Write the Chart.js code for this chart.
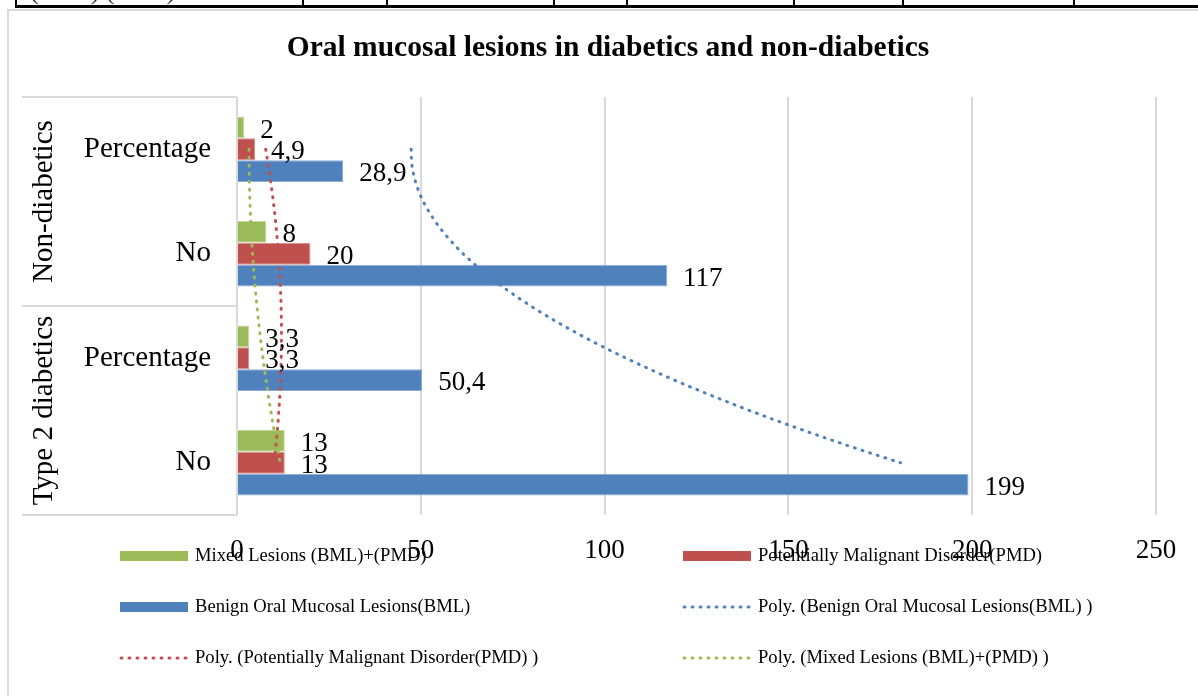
<!DOCTYPE html>
<html>
<head>
<meta charset="utf-8">
<script src="https://cdn.jsdelivr.net/npm/chart.js@4.4.1/dist/chart.umd.min.js"></script>
<style>
  body { margin: 0; background: #fff; overflow: hidden; }
  #wrap { position: relative; width: 1198px; height: 696px; overflow: hidden; }
  #frame { position: absolute; left: 7px; top: 9px; width: 1300px; height: 800px; border: 2px solid #d9d9d9; box-sizing: border-box; }
  .tl { position: absolute; background: #000; }
  .clip { position: absolute; top: 0; height: 5px; overflow: hidden; font: 26px "Liberation Serif", serif; color: #333; white-space: pre; }
  .clip span { position: relative; top: -24px; }
  canvas { position: absolute; left: 0; top: 0; }
</style>
</head>
<body>
<div id="wrap">
  <div id="frame"></div>
  <div class="tl" style="left:15px;top:5px;width:1190px;height:3px"></div>
  <div class="tl" style="left:15px;top:0;width:2px;height:7px"></div>
  <div class="tl" style="left:302px;top:0;width:2px;height:7px"></div>
  <div class="tl" style="left:386px;top:0;width:2px;height:7px"></div>
  <div class="tl" style="left:553px;top:0;width:2px;height:7px"></div>
  <div class="tl" style="left:626px;top:0;width:2px;height:7px"></div>
  <div class="tl" style="left:793px;top:0;width:2px;height:7px"></div>
  <div class="tl" style="left:902px;top:0;width:2px;height:7px"></div>
  <div class="tl" style="left:1073px;top:0;width:2px;height:7px"></div>
  <div class="clip" style="left:30px"><span>(        ) (        )</span></div>
  <canvas id="chart" width="1198" height="696"></canvas>
</div>
<script>
const title = "Oral mucosal lesions in diabetics and non-diabetics";
// categories listed top to bottom
const categories = ["Percentage", "No", "Percentage", "No"];
const groups = ["Non-diabetics", "Type 2 diabetics"];
const mixedLesions = [2, 8, 3.3, 13];
const pmd = [4.9, 20, 3.3, 13];
const bml = [28.9, 117, 50.4, 199];
const xTicks = [0, 50, 100, 150, 200, 250];

const serif = '"Liberation Serif", "Times New Roman", serif';
const green = "#9bbb59", red = "#c0504d", blue = "#4f81bd";
const dots = [1, 7];

// 2nd order polynomial trendline (least squares over category index)
function polyTrend(values) {
  const n = values.length;
  let s = [0, 0, 0, 0, 0], t = [0, 0, 0];
  values.forEach((v, i) => {
    for (let k = 0; k < 5; k++) s[k] += Math.pow(i, k);
    for (let k = 0; k < 3; k++) t[k] += v * Math.pow(i, k);
  });
  const m = [[s[0], s[1], s[2], t[0]], [s[1], s[2], s[3], t[1]], [s[2], s[3], s[4], t[2]]];
  for (let c = 0; c < 3; c++) {
    for (let r = c + 1; r < 3; r++) {
      const f = m[r][c] / m[c][c];
      for (let k = c; k < 4; k++) m[r][k] -= f * m[c][k];
    }
  }
  const b = [0, 0, 0];
  for (let r = 2; r >= 0; r--) {
    let acc = m[r][3];
    for (let k = r + 1; k < 3; k++) acc -= m[r][k] * b[k];
    b[r] = acc / m[r][r];
  }
  const pts = [];
  for (let j = 0; j <= 60; j++) {
    const i = (n - 1) * j / 60;
    pts.push({ x: b[0] + b[1] * i + b[2] * i * i, y: i });
  }
  return pts;
}

function trendSet(label, values, color) {
  return {
    type: "line", label, data: polyTrend(values), xAxisID: "x", yAxisID: "yLin",
    borderColor: color, borderWidth: 3, borderDash: dots, borderCapStyle: "round",
    pointRadius: 0, fill: false, tension: 0, order: 0
  };
}

function barSet(label, values, color, edge) {
  return { type: "bar", indexAxis: "y", label, data: values, backgroundColor: color,
    borderColor: edge, borderWidth: 1,
    yAxisID: "y", xAxisID: "x", categoryPercentage: 0.625, barPercentage: 1, order: 1 };
}

const legendItems = [
  { label: "Mixed Lesions (BML)+(PMD)", color: green, box: true },
  { label: "Potentially Malignant Disorder(PMD)", color: red, box: true },
  { label: "Benign Oral Mucosal Lesions(BML)", color: blue, box: true },
  { label: "Poly. (Benign Oral Mucosal Lesions(BML) )", color: blue, box: false },
  { label: "Poly. (Potentially Malignant Disorder(PMD) )", color: red, box: false },
  { label: "Poly. (Mixed Lesions (BML)+(PMD) )", color: green, box: false }
];

const decor = {
  id: "decor",
  afterDatasetsDraw(chart) {
    const ctx = chart.ctx;
    ctx.save();
    ctx.fillStyle = "#000";
    ctx.font = "27px " + serif;
    ctx.textAlign = "left";
    ctx.textBaseline = "middle";
    chart.data.datasets.forEach((ds, di) => {
      if (ds.type !== "bar") return;
      chart.getDatasetMeta(di).data.forEach((bar, j) => {
        ctx.fillText(String(ds.data[j]).replace(".", ","), bar.x + 16, bar.y + 3);
      });
    });
    ctx.restore();
  },
  afterDraw(chart) {
    const { ctx, chartArea: a } = chart;
    const y = chart.scales.y;
    ctx.save();
    ctx.fillStyle = "#000";
    ctx.textAlign = "center";
    ctx.textBaseline = "middle";
    ctx.font = "bold 29.5px " + serif;
    ctx.fillText(title, 608, 48);

    const mid = (y.getPixelForValue(1) + y.getPixelForValue(2)) / 2;
    ctx.strokeStyle = "#d9d9d9";
    ctx.lineWidth = 2;
    [a.top, mid, a.bottom].forEach((py) => {
      ctx.beginPath();
      ctx.moveTo(22, py);
      ctx.lineTo(a.left, py);
      ctx.stroke();
    });

    ctx.font = "29px " + serif;
    groups.forEach((g, i) => {
      const top = i === 0 ? a.top : mid;
      const bottom = i === 0 ? mid : a.bottom;
      ctx.save();
      ctx.translate(44, (top + bottom) / 2);
      ctx.rotate(-Math.PI / 2);
      ctx.fillText(g, 0, 0);
      ctx.restore();
    });

    const cols = [120, 683], rows = [556, 607, 658];
    ctx.font = "18.6px " + serif;
    ctx.textAlign = "left";
    legendItems.forEach((item, k) => {
      const x = cols[k % 2], yy = rows[Math.floor(k / 2)];
      if (item.box) {
        ctx.fillStyle = item.color;
        ctx.fillRect(x, yy - 5, 68, 10);
      } else {
        ctx.strokeStyle = item.color;
        ctx.lineWidth = 3;
        ctx.lineCap = "round";
        ctx.setLineDash(dots);
        ctx.beginPath();
        ctx.moveTo(x + 1, yy);
        ctx.lineTo(x + 66, yy);
        ctx.stroke();
        ctx.setLineDash([]);
      }
      ctx.fillStyle = "#000";
      ctx.fillText(item.label, x + 75, yy);
    });
    ctx.restore();
  }
};

new Chart(document.getElementById("chart"), {
  data: {
    labels: categories,
    datasets: [
      barSet("Mixed Lesions (BML)+(PMD)", mixedLesions, green, "#c4d89e"),
      barSet("Potentially Malignant Disorder(PMD)", pmd, red, "#d98e8c"),
      barSet("Benign Oral Mucosal Lesions(BML)", bml, blue, "#8eaad6"),
      trendSet("Poly. (Benign Oral Mucosal Lesions(BML) )", bml, blue),
      trendSet("Poly. (Potentially Malignant Disorder(PMD) )", pmd, red),
      trendSet("Poly. (Mixed Lesions (BML)+(PMD) )", mixedLesions, green)
    ]
  },
  options: {
    responsive: false,
    animation: false,
    layout: { padding: { left: 22, right: 42, top: 97, bottom: 121 } },
    plugins: { legend: { display: false }, tooltip: { enabled: false } },
    scales: {
      x: {
        type: "linear", position: "bottom", min: 0, max: 250,
        afterBuildTicks: (s) => { s.ticks = xTicks.map((v) => ({ value: v })); },
        ticks: { color: "#000", font: { family: serif, size: 27 }, padding: 20 },
        grid: { color: "#d9d9d9", lineWidth: 2, drawTicks: false },
        border: { display: false },
        afterFit: (s) => { s.height = 60; }
      },
      y: {
        type: "category", position: "left", offset: true,
        ticks: { color: "#000", font: { family: serif, size: 29 }, padding: 18 },
        grid: { display: false },
        border: { display: false },
        afterFit: (s) => { s.width = 215; }
      },
      yLin: { type: "linear", position: "left", display: false, min: -0.5, max: 3.5, reverse: true, offset: false }
    }
  },
  plugins: [decor]
});
</script>
</body>
</html>
